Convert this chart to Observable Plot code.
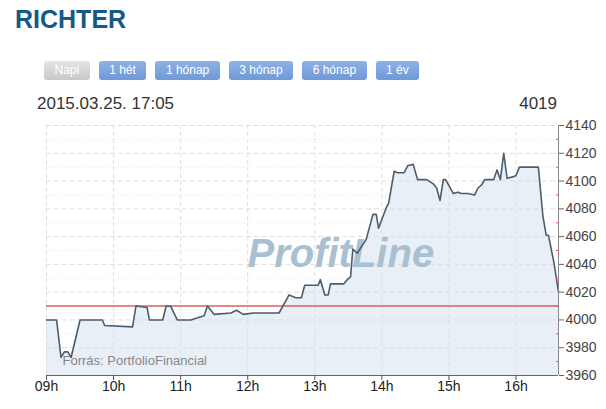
<!DOCTYPE html>
<html><head><meta charset="utf-8">
<script src="https://cdn.jsdelivr.net/npm/d3@7"></script>
<script src="https://cdn.jsdelivr.net/npm/@observablehq/plot@0.6"></script>
<style>
body{margin:0;background:#fff;font-family:"Liberation Sans",Arial,sans-serif;width:606px;height:409px;position:relative;overflow:hidden}
.abs{position:absolute;line-height:1;white-space:nowrap}
#title{left:15px;top:7px;font-size:25px;font-weight:bold;color:#155a87}
#btns{position:absolute;left:44px;top:61px;display:flex;gap:9px}
.btn{height:19px;line-height:19px;padding:0 10.5px;font-size:12px;color:#fff;border-radius:3px;background:linear-gradient(#8db1e5,#6f9ad8);white-space:nowrap}
.btn.off{background:linear-gradient(#e4e4e4,#c8c8c8)}
#date{left:37px;top:95px;font-size:17px;color:#333}
#last{right:49px;top:95px;font-size:17px;color:#333}
#chart{position:absolute;left:0;top:112px}
</style></head>
<body>
<div id="title" class="abs"></div>
<div id="btns"></div>
<div id="date" class="abs"></div>
<div id="last" class="abs"></div>
<div id="chart"></div>
<script>
const titleText = "RICHTER";
const buttonLabels = ["Napi", "1 hét", "1 hónap", "3 hónap", "6 hónap", "1 év"];
const dateText = "2015.03.25. 17:05";
const lastPrice = "4019";
const times = ["09:00","09:09","09:13","09:16","09:19","09:22","09:30","09:50","09:52","10:17","10:20","10:30","10:32","10:44","10:47","10:51","10:57","11:09","11:21","11:24","11:30","11:45","11:50","11:56","12:05","12:28","12:37","12:43","12:48","12:51","13:03","13:05","13:09","13:12","13:14","13:26","13:29","13:32","13:34","13:38","13:46","13:52","13:55","13:57","14:04","14:06","14:11","14:14","14:20","14:23","14:28","14:32","14:40","14:46","14:49","14:52","14:55","14:57","15:04","15:08","15:11","15:17","15:23","15:26","15:29","15:32","15:40","15:43","15:46","15:49","15:52","15:57","16:00","16:03","16:20","16:24","16:27","16:29","16:34","16:38"];
const prices = [4000,4000,3973,3977,3977,3973,4000,4000,3996,3995,4010,4009,4000,4000,4010,4010,4000,4000,4003,4010,4004,4005,4007,4004,4005,4005,4018,4016,4016,4025,4025,4029,4018,4018,4026,4026,4029,4031,4051,4048,4058,4076,4076,4066,4081,4084,4107,4106,4106,4111,4112,4101,4101,4098,4095,4086,4101,4101,4091,4092,4091,4091,4090,4095,4097,4101,4101,4108,4101,4120,4102,4103,4104,4110,4110,4075,4061,4061,4041,4020];
const prevClose = 4010;
const yMajor = [3960,3980,4000,4020,4040,4060,4080,4100,4120,4140];
const yMinor = [3970,3990,4010,4030,4050,4070,4090,4110,4130];
const hourTicks = [9,10,11,12,13,14,15,16];
const dayStart = "09:00", dayEnd = "16:38";
const sourceLabel = "Forrás: PortfolioFinancial";
const watermark = "ProfitLine";

document.getElementById("title").textContent = titleText;
document.getElementById("date").textContent = dateText;
document.getElementById("last").textContent = lastPrice;
const btns = document.getElementById("btns");
buttonLabels.forEach((b,i)=>{const e=document.createElement("div");e.className="btn"+(i===0?" off":"");e.textContent=b;btns.appendChild(e);});

const toDate = s => { const [h,m]=s.split(":").map(Number); return new Date(Date.UTC(2015,2,25,h,m)); };
const data = times.map((t,i)=>({t: toDate(t), v: prices[i]}));
const hours = hourTicks.map(h=>new Date(Date.UTC(2015,2,25,h)));
const chart = Plot.plot({
  width:606, height:297, marginTop:13, marginBottom:34, marginLeft:46, marginRight:48,
  style:{fontFamily:"Liberation Sans, Arial, sans-serif", background:"transparent", overflow:"visible"},
  x:{type:"utc", domain:[toDate(dayStart), toDate(dayEnd)]},
  y:{domain:[3960,4140]},
  marks:[
    Plot.areaY(data,{x:"t", y1:3960, y2:"v", fill:"#e8eff7"}),
    Plot.gridX(hours,{stroke:"#dedede", strokeOpacity:1, strokeDasharray:"4,3"}),
    Plot.gridY(yMinor,{stroke:"#e8e8e8", strokeOpacity:1, strokeDasharray:"1,2"}),
    Plot.gridY(yMajor.filter(d=>d>3960),{stroke:"#dedede", strokeOpacity:1, strokeDasharray:"5,3"}),
    Plot.text([watermark],{text:d=>d, frameAnchor:"top-left", textAnchor:"start", lineAnchor:"top", dx:201, dy:113, fontSize:40, fontWeight:"bold", fontStyle:"italic", fill:"#a9c0d1"}),
    Plot.text([sourceLabel],{text:d=>d, frameAnchor:"top-left", textAnchor:"start", lineAnchor:"top", dx:16, dy:230, fontSize:13, fill:"#888"}),
    Plot.ruleY([prevClose],{stroke:"#d9605e", strokeWidth:1.5}),
    Plot.lineY(data,{x:"t", y:"v", stroke:"#4b5e6c", strokeWidth:1.6}),
    Plot.ruleY([3960],{stroke:"#666"}),
    Plot.ruleX([toDate(dayEnd)],{stroke:"#888"}),
    Plot.axisX({ticks:hours, tickFormat:d3.utcFormat("%Hh"), tickSize:5, tickPadding:1, fontSize:14, label:null, fill:"#222", stroke:"#555"}),
    Plot.axisY({anchor:"right", ticks:yMajor, tickFormat:d=>String(d), tickSize:5, tickPadding:2, fontSize:14, label:null, fill:"#444", stroke:"#666"}),
    Plot.axisY({anchor:"right", ticks:yMinor, tickSize:3, dx:-3, tickFormat:()=>"", label:null, stroke:"#d9605e"})
  ]
});
document.getElementById("chart").appendChild(chart);
</script>
</body></html>
